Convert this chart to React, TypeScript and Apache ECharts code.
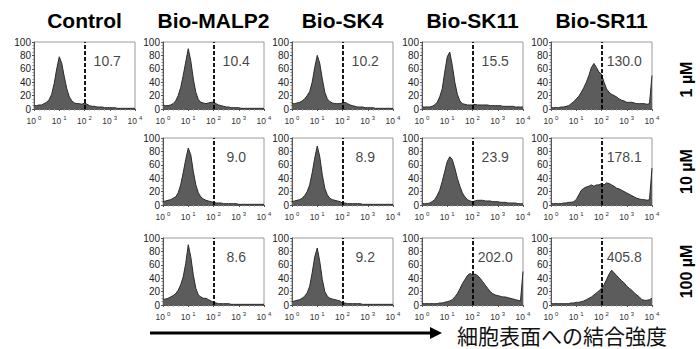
import React, { useEffect, useRef } from "react";
import * as echarts from "echarts";

// ---------- data ----------
const COLUMNS = ["Control", "Bio-MALP2", "Bio-SK4", "Bio-SK11", "Bio-SR11"];
const ROWS = ["1 µM", "10 µM", "100 µM"];
const X_AXIS_TITLE = "細胞表面への結合強度";
const BIN_STEP = 0.1; // histogram bins in log10 units, from 10^0 to 10^4
const GATE_LOG = 2; // dashed line at 10^2
const Y_MAX = 100;

const VALUES_1UM = ["10.7", "10.4", "10.2", "15.5", "130.0"];
const VALUES_10UM = [null, "9.0", "8.9", "23.9", "178.1"];
const VALUES_100UM = [null, "8.6", "9.2", "202.0", "405.8"];

const CONTROL_1UM = [5, 5, 6, 6, 8, 10, 14, 22, 38, 60, 78, 68, 48, 30, 18, 12, 9, 8, 8, 7, 9, 7, 5, 4, 4, 3, 3, 3, 2, 2, 2, 2, 2, 1, 1, 1, 1, 1, 1, 1, 1];
const MALP2_1UM = [6, 5, 5, 6, 8, 12, 20, 32, 50, 70, 90, 72, 45, 25, 14, 10, 9, 8, 9, 10, 10, 8, 6, 5, 4, 3, 3, 2, 2, 2, 2, 1, 1, 1, 1, 1, 1, 1, 1, 1, 1];
const SK4_1UM = [8, 8, 9, 10, 12, 15, 20, 26, 40, 62, 80, 68, 45, 25, 15, 11, 9, 8, 8, 8, 9, 10, 8, 6, 5, 4, 3, 3, 3, 2, 2, 2, 2, 1, 1, 1, 1, 1, 1, 1, 1];
const SK11_1UM = [3, 3, 3, 3, 4, 6, 10, 18, 30, 55, 78, 85, 65, 40, 22, 12, 8, 7, 6, 6, 6, 7, 6, 6, 6, 6, 6, 5, 5, 5, 5, 5, 4, 4, 4, 4, 4, 3, 3, 3, 3];
const SR11_1UM = [2, 2, 2, 2, 3, 3, 4, 5, 8, 11, 15, 19, 25, 32, 40, 50, 62, 68, 62, 55, 52, 40, 30, 25, 22, 20, 18, 15, 13, 12, 10, 10, 10, 9, 8, 8, 8, 8, 7, 8, 50];

const MALP2_10UM = [5, 6, 7, 8, 10, 12, 18, 30, 48, 68, 85, 75, 50, 30, 18, 12, 9, 7, 6, 5, 4, 3, 3, 3, 2, 2, 2, 2, 2, 2, 1, 1, 1, 1, 1, 1, 1, 1, 1, 1, 1];
const SK4_10UM = [5, 6, 7, 8, 10, 14, 20, 30, 48, 70, 88, 72, 45, 25, 15, 10, 8, 7, 6, 5, 3, 3, 2, 2, 2, 2, 2, 2, 1, 1, 1, 1, 1, 1, 1, 1, 1, 1, 1, 1, 1];
const SK11_10UM = [2, 2, 2, 3, 5, 8, 14, 22, 35, 50, 65, 72, 68, 55, 40, 28, 18, 12, 8, 6, 5, 6, 7, 7, 7, 6, 6, 6, 5, 5, 5, 4, 4, 4, 3, 3, 3, 3, 2, 2, 2];
const SR11_10UM = [2, 2, 2, 2, 2, 3, 3, 4, 4, 5, 8, 15, 22, 25, 27, 28, 30, 28, 30, 30, 32, 30, 33, 32, 30, 28, 25, 24, 22, 20, 18, 16, 14, 12, 10, 9, 8, 8, 7, 8, 55];

const MALP2_100UM = [8, 9, 10, 12, 14, 17, 22, 30, 42, 62, 90, 72, 45, 25, 15, 12, 10, 10, 8, 6, 4, 3, 2, 2, 2, 2, 2, 1, 1, 1, 1, 1, 1, 1, 1, 1, 1, 1, 1, 1, 1];
const SK4_100UM = [5, 6, 7, 8, 10, 13, 18, 28, 48, 72, 85, 65, 38, 20, 13, 10, 9, 8, 7, 6, 3, 3, 2, 2, 2, 2, 2, 2, 1, 1, 1, 1, 1, 1, 1, 1, 1, 1, 1, 1, 1];
const SK11_100UM = [2, 2, 2, 2, 2, 2, 2, 3, 3, 4, 5, 6, 8, 12, 17, 24, 32, 38, 44, 47, 45, 46, 44, 40, 35, 30, 25, 20, 17, 15, 14, 13, 12, 12, 11, 10, 9, 8, 7, 6, 50];
const SR11_100UM = [2, 2, 2, 2, 2, 2, 2, 2, 3, 3, 4, 4, 5, 6, 8, 10, 12, 15, 18, 21, 25, 30, 38, 46, 52, 48, 44, 40, 36, 33, 28, 25, 22, 18, 15, 12, 8, 7, 7, 8, 10];

const HISTS = [
  [CONTROL_1UM, MALP2_1UM, SK4_1UM, SK11_1UM, SR11_1UM],
  [null, MALP2_10UM, SK4_10UM, SK11_10UM, SR11_10UM],
  [null, MALP2_100UM, SK4_100UM, SK11_100UM, SR11_100UM],
];
const VALUES = [VALUES_1UM, VALUES_10UM, VALUES_100UM];

// ---------- layout ----------
const COL_LEFT = [34, 163, 292, 422, 551];
const ROW_TOP = [42, 138, 238];
const BOX_W = 101;
const BOX_H = 67;
const FONT = '"Liberation Sans", Arial, Helvetica, sans-serif';
const LABEL_AT = [2.9, 72];

export default function App() {
  const ref = useRef<HTMLDivElement>(null);

  useEffect(() => {
    document.body.style.margin = "0";
    if (!ref.current) return;
    const chart = echarts.init(ref.current, undefined, { renderer: "svg" });

    const grids: any[] = [];
    const xAxes: any[] = [];
    const yAxes: any[] = [];
    const series: any[] = [];

    HISTS.forEach((row, r) => {
      row.forEach((hist, c) => {
        if (!hist) return;
        const i = grids.length;
        grids.push({
          left: COL_LEFT[c],
          top: ROW_TOP[r],
          width: BOX_W,
          height: BOX_H,
          show: true,
          borderColor: "#9a9a9a",
          borderWidth: 1,
          backgroundColor: "#fff",
        });
        xAxes.push({
          gridIndex: i,
          type: "value",
          min: 0,
          max: 4,
          interval: 1,
          axisLine: { show: true, onZero: false, lineStyle: { color: "#555", width: 1 } },
          axisTick: { show: true, length: 2, lineStyle: { color: "#555" } },
          minorTick: { show: true, splitNumber: 5, length: 1.5, lineStyle: { color: "#888" } },
          splitLine: { show: false },
          axisLabel: {
            margin: 6,
            color: "#333",
            formatter: (v: number) => `{a|10}{b|${v}}`,
            rich: {
              a: { fontSize: 8.5, fontFamily: FONT, color: "#333", lineHeight: 10, verticalAlign: "bottom" },
              b: { fontSize: 6, fontFamily: FONT, color: "#333", lineHeight: 10, verticalAlign: "top", padding: [0, 0, 0, 2] },
            },
          },
        });
        yAxes.push({
          gridIndex: i,
          type: "value",
          min: 0,
          max: Y_MAX,
          interval: 20,
          axisLine: { show: true, lineStyle: { color: "#555", width: 1 } },
          axisTick: { show: true, length: 2, lineStyle: { color: "#555" } },
          minorTick: { show: true, splitNumber: 4, length: 1.5, lineStyle: { color: "#888" } },
          splitLine: { show: false },
          axisLabel: { margin: 3, fontSize: 10, lineHeight: 9, fontFamily: FONT, color: "#222" },
        });
        series.push({
          type: "line",
          xAxisIndex: i,
          yAxisIndex: i,
          data: hist.map((v, k) => [k * BIN_STEP, v]),
          symbol: "none",
          silent: true,
          lineStyle: { color: "#2b2b2b", width: 1 },
          areaStyle: { color: "#5c5c5c", opacity: 1 },
          markLine: {
            silent: true,
            symbol: "none",
            label: { show: false },
            lineStyle: { color: "#000", width: 1.8, type: [4, 2] },
            data: [{ xAxis: GATE_LOG }],
          },
          z: 2,
        });
        const value = VALUES[r][c];
        if (value) {
          series.push({
            type: "scatter",
            xAxisIndex: i,
            yAxisIndex: i,
            data: [LABEL_AT],
            symbolSize: 0,
            silent: true,
            label: {
              show: true,
              position: "inside",
              formatter: () => value,
              fontSize: 14,
              fontFamily: FONT,
              color: "#111",
            },
            z: 5,
          });
        }
      });
    });

    const graphic: any[] = [];
    COLUMNS.forEach((name, c) => {
      graphic.push({
        type: "text",
        x: COL_LEFT[c] + BOX_W / 2,
        y: 20,
        style: { text: name, font: `bold 21px ${FONT}`, fill: "#000", align: "center", verticalAlign: "middle" },
      });
    });
    ROWS.forEach((name, r) => {
      graphic.push({
        type: "text",
        x: 686,
        y: ROW_TOP[r] + BOX_H / 2 + (r === 0 ? 4 : 0),
        rotation: Math.PI / 2,
        style: { text: name, font: `bold 16px ${FONT}`, fill: "#000", align: "center", verticalAlign: "middle" },
      });
    });
    graphic.push({
      type: "line",
      shape: { x1: 150, y1: 333, x2: 434, y2: 333 },
      style: { stroke: "#000", lineWidth: 3 },
    });
    graphic.push({
      type: "polygon",
      shape: { points: [[430, 327], [442, 333], [430, 339]] },
      style: { fill: "#000" },
    });
    graphic.push({
      type: "text",
      x: 457,
      y: 335,
      style: {
        text: X_AXIS_TITLE,
        font: `21px "Noto Sans CJK JP", sans-serif`,
        lineHeight: 21,
        fill: "#111",
        align: "left",
        verticalAlign: "middle",
      },
    });

    chart.setOption({
      animation: false,
      backgroundColor: "#fff",
      grid: grids,
      xAxis: xAxes,
      yAxis: yAxes,
      series,
      graphic,
    });

    return () => chart.dispose();
  }, []);

  return <div ref={ref} style={{ width: 700, height: 349 }} />;
}
